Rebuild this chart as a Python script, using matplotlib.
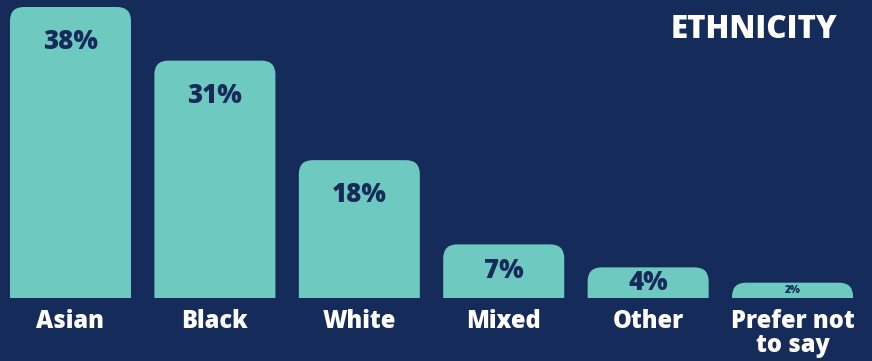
import matplotlib.pyplot as plt
from matplotlib.patches import FancyBboxPatch

# Survey results
categories = ['Asian', 'Black', 'White', 'Mixed', 'Other', 'Prefer not\nto say']
values = [38, 31, 18, 7, 4, 2]

bg = '#152b59'
bar_color = '#6ecac0'
dark = '#172b5a'

plt.rcParams['font.family'] = ['Open Sans', 'DejaVu Sans']

fig = plt.figure(figsize=(8.72, 3.61), dpi=100, facecolor=bg)
ax = fig.add_axes([0, 63 / 361, 1, 298 / 361])
ax.set_facecolor(bg)
ax.set_xlim(-0.488, 5.55)
ax.set_ylim(0, 38 * 298 / 291)
ax.axis('off')

fig.canvas.draw()
# pixel size of one data unit in x and y
px_x = ax.transData.transform((1, 0))[0] - ax.transData.transform((0, 0))[0]
px_y = ax.transData.transform((0, 1))[1] - ax.transData.transform((0, 0))[1]

width = 0.838
r_px = 14
r = r_px / px_x
for i, v in enumerate(values):
    extra = r_px / px_y
    patch = FancyBboxPatch((i - width / 2, -extra), width, v + extra,
                           boxstyle=f'round,pad=0,rounding_size={r}',
                           mutation_aspect=px_x / px_y,
                           facecolor=bar_color, edgecolor='none')
    ax.add_patch(patch)

    h_px = v * px_y
    off_px = min(35, h_px / 2)
    size = 18.5 if h_px > 25 else 7.5
    ax.annotate(f'{v}%', (i, v), xytext=(0, -off_px * 0.72), textcoords='offset points',
                ha='center', va='center', fontsize=size, fontweight=800, color=dark)

    ax.annotate(categories[i], (i, 0), xytext=(0, -8), textcoords='offset points',
                ha='center', va='top', fontsize=17, fontweight=800, color='white',
                linespacing=0.95, annotation_clip=False)

fig.text(837 / 872, 1 - 30 / 361, 'ETHNICITY', ha='right', va='center',
         fontsize=22.5, fontweight=800, color='white')

fig.savefig('out.png', dpi=100, facecolor=bg)
